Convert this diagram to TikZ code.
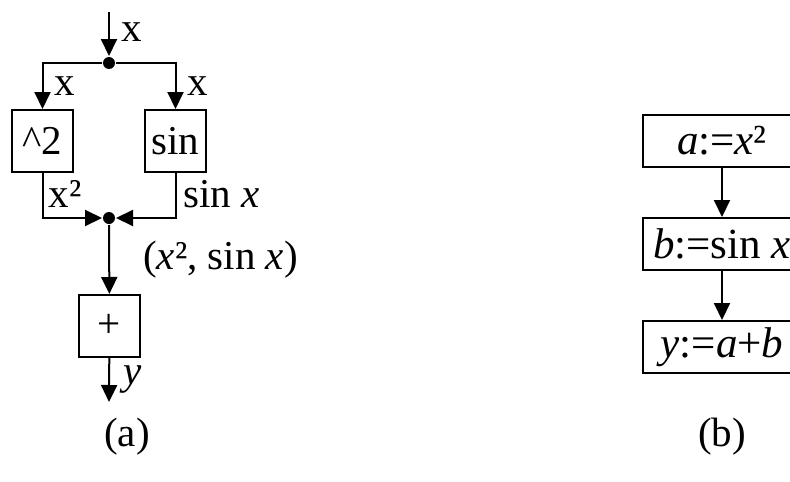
\documentclass[tikz,border=0pt]{standalone}
\usepackage{fontspec}
\setmainfont{Liberation Serif}
\usetikzlibrary{arrows.meta,positioning}

\begin{document}
\begin{tikzpicture}[
  x=1pt,y=-1pt,
  line width=2pt,
  font=\fontsize{41}{48}\selectfont,
  blk/.style={draw,minimum width=61pt,minimum height=62pt,inner sep=0pt},
  stmt/.style={draw,minimum width=158pt,minimum height=52pt,inner sep=0pt,font=\fontsize{43}{52}\selectfont},
  dot/.style={circle,fill,inner sep=0pt,minimum size=12pt},
  arr/.style={-{Triangle[length=17pt,width=16pt]}},
  lbl/.style={inner sep=0pt}
]
\useasboundingbox (0,0) rectangle (790,482);

% (a) data flow
\coordinate (in) at (109,12);
\node[dot] (fork) at (109,63) {};
\node[blk] (sq) at (42.5,141) {\textasciicircum2};
\node[blk] (sin) at (175.5,141) {sin};
\node[dot] (join) at (109,218) {};
\node[blk] (add) at (109.5,326) {+};
\coordinate (out) at (109,402);

\draw[arr] (in) -- node[lbl,pos=.45,anchor=west,xshift=11pt]{x} (fork);
\draw[arr] (fork) -| node[lbl,pos=.75,anchor=west,xshift=11pt]{x} (sq);
\draw[arr] (fork) -| node[lbl,pos=.75,anchor=west,xshift=11pt]{x} (sin);
\draw[arr] (sq) |- node[lbl,pos=.25,anchor=base west,xshift=5pt,yshift=-12pt]{x²} (join);
\draw[arr] (sin) |- node[lbl,pos=.25,anchor=base west,xshift=7pt,yshift=-12pt]{sin \textit{x}} (join);
\draw[arr] (join) -- node[lbl,anchor=west,xshift=33pt]{(\textit{x}², sin \textit{x})} (add);
\draw[arr] (add) -- node[lbl,anchor=west,xshift=13pt]{\textit{y}} (out);

\node (capa) at (127,437) {(a)};

% (b) statements
\node[stmt] (sa) at (722,141) {\textit{a}:=\textit{x}²};
\node[stmt] (sb) at (722,244) {\textit{b}:=sin \textit{x}};
\node[stmt] (sy) at (722,347) {\textit{y}:=\textit{a}+\textit{b}};

\draw[arr] (sa) -- (sb);
\draw[arr] (sb) -- (sy);

\node (capb) at (722,437) {(b)};
\end{tikzpicture}
\end{document}
